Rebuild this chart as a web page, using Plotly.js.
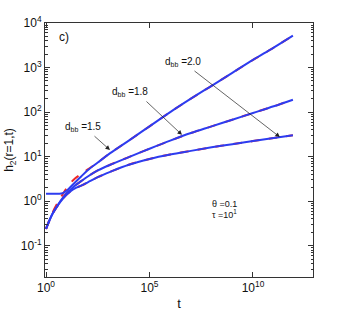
<!DOCTYPE html>
<html>
<head>
<meta charset="utf-8">
<script src="https://cdn.plot.ly/plotly-3.0.1.min.js"></script>
<style>html,body{margin:0;padding:0;background:#fff}#chart{width:346px;height:312px}</style>
</head>
<body>
<div id="chart"></div>
<script>
// time values (shared)
const tValues = [1, 2, 4, 6.3, 10, 16, 25, 50, 100, 316, 1260, 1e4, 1e5, 1e6, 1e7, 1e8, 1e9, 1e10, 1e11, 8.5e11];
// full solution (blue, solid)
const h_d15 = [1.47, 1.47, 1.47, 1.51, 1.74, 2.14, 2.63, 3.6, 4.9, 7.4, 12, 23, 48, 100, 200, 390, 760, 1480, 2800, 5200];
const h_d18 = [0.24, 0.51, 0.87, 1.17, 1.51, 1.86, 2.24, 2.82, 3.55, 4.9, 6.6, 9.8, 15.1, 22.9, 33.9, 47.9, 67.6, 95.5, 135, 190];
const h_d20 = [0.24, 0.51, 0.85, 1.12, 1.41, 1.70, 1.95, 2.24, 2.63, 3.47, 4.57, 6.6, 8.9, 11.2, 13.5, 16.2, 19.1, 22.4, 26.3, 30.2];
// approximation (red, dashed)
const a_d15 = [0.24, 0.54, 1.0, 1.41, 2.0, 2.63, 3.24, 4.07, 5.13, 7.4, 12, 23, 48, 100, 200, 390, 760, 1480, 2800, 5200];
const a_d18 = h_d18.slice();
const a_d20 = h_d20.slice();
const labels = ["d<sub>bb</sub> =1.5", "d<sub>bb</sub> =1.8", "d<sub>bb</sub> =2.0"];
// tick labels
const xTickVals = [1, 1e5, 1e10];
const xTickText = ["10<sup>0</sup>", "10<sup>5</sup>", "10<sup>10</sup>"];
const yTickVals = [0.1, 1, 10, 100, 1000, 10000];
const yTickText = ["10<sup>-1</sup>", "10<sup>0</sup>", "10<sup>1</sup>", "10<sup>2</sup>", "10<sup>3</sup>", "10<sup>4</sup>"];

const blue = 'rgb(45,60,240)';
const red = 'rgb(240,40,40)';
const F = 'Liberation Sans, Arial, sans-serif';

const traces = [];
[a_d15, a_d18, a_d20].forEach(a => traces.push({x: tValues, y: a, mode: 'lines', line: {color: red, width: 2, dash: 'dash', shape: 'spline', smoothing: 1}, hoverinfo: 'skip'}));
[h_d15, h_d18, h_d20].forEach(h => traces.push({x: tValues, y: h, mode: 'lines', line: {color: blue, width: 2, shape: 'spline', smoothing: 1}, hoverinfo: 'skip'}));

const arrow = (x, y, ax, ay) => ({x: x, y: y, ax: ax, ay: ay, axref: 'x', ayref: 'y', xref: 'x', yref: 'y', text: '', showarrow: true, arrowhead: 2, arrowsize: 1.3, arrowwidth: 0.7, arrowcolor: '#222', standoff: 0, startstandoff: 0});
const txt = (x, y, t, size) => ({x: x, y: y, xref: 'x', yref: 'y', text: t, showarrow: false, xanchor: 'left', yanchor: 'middle', font: {family: F, size: size, color: '#111'}});

const layout = {
  width: 346, height: 312,
  margin: {l: 45, r: 33, t: 23, b: 35},
  paper_bgcolor: '#fff', plot_bgcolor: '#fff',
  showlegend: false,
  font: {family: F, size: 12, color: '#111'},
  xaxis: {
    type: 'log', range: [-0.05, 12.9], tickmode: 'array', tickvals: xTickVals, ticktext: xTickText,
    ticks: 'inside', ticklen: 5, tickcolor: '#333', mirror: 'allticks',
    showline: true, linecolor: '#333', linewidth: 1, showgrid: false, zeroline: false,
    tickfont: {family: F, size: 12},
    title: {text: 't', font: {family: F, size: 13}, standoff: 4}
  },
  yaxis: {
    type: 'log', range: [-1.7, 4], tickmode: 'array', tickvals: yTickVals, ticktext: yTickText,
    ticks: 'inside', ticklen: 5, tickcolor: '#333', mirror: 'allticks',
    showline: true, linecolor: '#333', linewidth: 1, showgrid: false, zeroline: false,
    minor: {ticks: 'inside', ticklen: 2.5, tickcolor: '#333', dtick: 'D1', showgrid: false},
    tickfont: {family: F, size: 12},
    title: {text: 'h<sub>2</sub>(r=1,t)', font: {family: F, size: 12}, standoff: 4}
  },
  annotations: [
    txt(0.55, 3.69, 'c)', 12),
    txt(0.82, 1.67, labels[0], 10),
    txt(3.09, 2.45, labels[1], 10),
    txt(5.65, 3.13, labels[2], 10),
    arrow(3.09, 1.15, 2.27, 1.49),
    arrow(6.57, 1.49, 4.78, 2.27),
    arrow(11.3, 1.44, 7.1, 2.95),
    txt(7.92, -0.06, '\u03b8 =0.1', 9),
    txt(7.92, -0.29, '\u03c4 =10<sup>1</sup>', 9)
  ]
};
Plotly.newPlot('chart', traces, layout, {displayModeBar: false, staticPlot: true});
</script>
</body>
</html>
